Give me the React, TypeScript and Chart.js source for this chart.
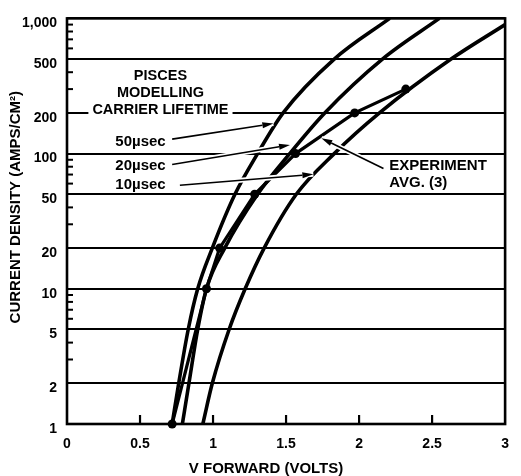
import React, { useEffect, useRef } from "react";
import { Chart, registerables } from "chart.js";

Chart.register(...registerables);

const FONT = "'Liberation Sans', Arial, Helvetica, sans-serif";

// ---- axis ticks ----
const xTickValues = [0, 0.5, 1, 1.5, 2, 2.5, 3];
const xTickLabels = ["0", "0.5", "1", "1.5", "2", "2.5", "3"];
const yTickValues = [1, 2, 5, 10, 20, 50, 100, 200, 500, 1000];
const yTickLabels = ["1", "2", "5", "10", "20", "50", "100", "200", "500", "1,000"];
const yMinorMultipliers = [3, 4, 6, 7, 8, 9];
const yMinorDecades = [1, 10, 100];

// ---- series (V forward in volts, current density in A/cm²) ----
const modelDensity = [1, 2, 5, 10, 20, 50, 100, 200, 500, 1000];
const v50us = [0.72, 0.765, 0.83, 0.895, 0.995, 1.15, 1.305, 1.48, 1.83, 2.21];
const v20us = [0.79, 0.835, 0.895, 0.955, 1.08, 1.305, 1.525, 1.765, 2.16, 2.55];
const density10us = [1, 2, 5, 10, 20, 50, 100, 200, 500, 900];
const v10us = [0.93, 0.995, 1.11, 1.22, 1.35, 1.57, 1.83, 2.14, 2.63, 3.0];
const expV = [0.72, 0.955, 1.045, 1.285, 1.565, 1.97, 2.32];
const expDensity = [1, 10, 20, 50, 100, 200, 300];

// ---- annotations (data coordinates) ----
const headingLines = ["PISCES", "MODELLING", "CARRIER LIFETIME"];
const headingV = 0.64;
const headingDensity = [378, 281, 209];
const lifetimeLabels = ["50\u00b5sec", "20\u00b5sec", "10\u00b5sec"];
const lifetimeLabelV = 0.331;
const lifetimeLabelDensity = [123, 80.7, 59.2];
const lifetimeArrowFrom = [[0.72, 128], [0.72, 83], [0.773, 58.4]];
const lifetimeArrowTo = [[1.413, 167], [1.527, 116], [1.687, 70.3]];
const expLabelLines = ["EXPERIMENT", "AVG. (3)"];
const expLabelV = 2.207;
const expLabelDensity = [80.7, 61];
const expArrowFrom = [2.167, 77.6];
const expArrowTo = [1.742, 130];

const yTitle = "CURRENT DENSITY (AMPS/CM\u00b2)";
const xTitle = "V FORWARD (VOLTS)";

function pts(xs: number[], ys: number[]) {
  return xs.map((x, i) => ({ x, y: ys[i] }));
}

export default function App() {
  const ref = useRef<HTMLCanvasElement | null>(null);

  useEffect(() => {
    const canvas = ref.current;
    if (!canvas) return;

    const px = (chart: any, v: number, d: number) => ({
      x: chart.scales.x.getPixelForValue(v),
      y: chart.scales.y.getPixelForValue(d),
    });

    const drawArrow = (ctx: CanvasRenderingContext2D, a: any, b: any) => {
      const ang = Math.atan2(b.y - a.y, b.x - a.x);
      const headLen = 11;
      const half = 3;
      const bx = b.x - headLen * Math.cos(ang);
      const by = b.y - headLen * Math.sin(ang);
      ctx.save();
      ctx.strokeStyle = "#fff";
      ctx.lineWidth = 5;
      ctx.lineCap = "butt";
      ctx.beginPath();
      ctx.moveTo(a.x, a.y);
      ctx.lineTo(b.x, b.y);
      ctx.stroke();
      ctx.strokeStyle = "#000";
      ctx.lineWidth = 1.6;
      ctx.beginPath();
      ctx.moveTo(a.x, a.y);
      ctx.lineTo(bx, by);
      ctx.stroke();
      ctx.fillStyle = "#000";
      ctx.beginPath();
      ctx.moveTo(b.x, b.y);
      ctx.lineTo(bx + half * Math.sin(ang), by - half * Math.cos(ang));
      ctx.lineTo(bx - half * Math.sin(ang), by + half * Math.cos(ang));
      ctx.closePath();
      ctx.fill();
      ctx.restore();
    };

    const bgPlugin = {
      id: "bg",
      beforeDraw(chart: any) {
        const ctx = chart.ctx;
        ctx.save();
        ctx.fillStyle = "#fff";
        ctx.fillRect(0, 0, chart.width, chart.height);
        ctx.restore();
      },
    };

    const framePlugin = {
      id: "frame",
      beforeDatasetsDraw(chart: any) {
        const ctx = chart.ctx;
        const { left, right, top, bottom } = chart.chartArea;
        ctx.save();
        ctx.strokeStyle = "#000";
        ctx.lineWidth = 2;
        yMinorDecades.forEach((dec) => {
          yMinorMultipliers.forEach((m) => {
            const y = chart.scales.y.getPixelForValue(dec * m);
            ctx.beginPath();
            ctx.moveTo(left, y);
            ctx.lineTo(left + 6, y);
            ctx.stroke();
          });
        });
        ctx.lineWidth = 2.2;
        xTickValues.forEach((v) => {
          const x = chart.scales.x.getPixelForValue(v);
          if (x <= left + 1 || x >= right - 1) return;
          ctx.beginPath();
          ctx.moveTo(x, bottom);
          ctx.lineTo(x, bottom - 9);
          ctx.stroke();
        });
        ctx.lineWidth = 2.6;
        ctx.strokeRect(left, top, right - left, bottom - top);
        ctx.restore();
      },
    };

    const annotPlugin = {
      id: "annot",
      afterDatasetsDraw(chart: any) {
        const ctx = chart.ctx;
        const { left, right, top, bottom } = chart.chartArea;
        ctx.save();
        ctx.fillStyle = "#000";
        ctx.textBaseline = "middle";
        ctx.font = `bold 14.5px ${FONT}`;
        ctx.textAlign = "center";
        headingLines.forEach((t, i) => {
          const p = px(chart, headingV, headingDensity[i]);
          const w = ctx.measureText(t).width;
          ctx.fillStyle = "#fff";
          ctx.fillRect(p.x - w / 2 - 4, p.y - 7, w + 8, 14);
          ctx.fillStyle = "#000";
          ctx.fillText(t, p.x, p.y);
        });
        ctx.font = `bold 15px ${FONT}`;
        ctx.textAlign = "left";
        lifetimeLabels.forEach((t, i) => {
          const p = px(chart, lifetimeLabelV, lifetimeLabelDensity[i]);
          ctx.fillText(t, p.x, p.y);
        });
        lifetimeArrowFrom.forEach((f, i) => {
          const a = px(chart, f[0], f[1]);
          const b = px(chart, lifetimeArrowTo[i][0], lifetimeArrowTo[i][1]);
          drawArrow(ctx, a, b);
        });
        expLabelLines.forEach((t, i) => {
          const p = px(chart, expLabelV, expLabelDensity[i]);
          ctx.fillText(t, p.x, p.y);
        });
        drawArrow(
          ctx,
          px(chart, expArrowFrom[0], expArrowFrom[1]),
          px(chart, expArrowTo[0], expArrowTo[1])
        );
        ctx.font = `bold 15px ${FONT}`;
        ctx.textAlign = "center";
        ctx.fillText(xTitle, (left + right) / 2 - 20, bottom + 45);
        ctx.save();
        ctx.translate(left - 51, (top + bottom) / 2 - 14);
        ctx.rotate(-Math.PI / 2);
        ctx.fillText(yTitle, 0, 0);
        ctx.restore();
        ctx.restore();
      },
    };

    const lineStyle = {
      borderColor: "#000",
      borderWidth: 3.6,
      pointRadius: 0,
      cubicInterpolationMode: "monotone" as const,
      fill: false,
    };

    const chart = new Chart(canvas, {
      type: "line",
      data: {
        datasets: [
          { label: "50µsec", data: pts(v50us, modelDensity), ...lineStyle },
          { label: "20µsec", data: pts(v20us, modelDensity), ...lineStyle },
          { label: "10µsec", data: pts(v10us, density10us), ...lineStyle },
          {
            label: "Experiment avg. (3)",
            data: pts(expV, expDensity),
            borderColor: "#000",
            borderWidth: 3.2,
            tension: 0,
            pointRadius: 4.5,
            pointBackgroundColor: "#000",
            pointBorderColor: "#000",
            pointBorderWidth: 0,
            clip: false as any,
            fill: false,
          },
        ],
      },
      options: {
        animation: false,
        responsive: true,
        maintainAspectRatio: false,
        layout: { padding: { top: 14, right: 4, bottom: 0, left: 0 } },
        plugins: {
          legend: { display: false },
          tooltip: { enabled: false },
        },
        scales: {
          x: {
            type: "linear",
            min: 0,
            max: 3,
            afterFit(scale: any) {
              scale.height = 52;
            },
            afterBuildTicks(scale: any) {
              scale.ticks = xTickValues.map((v) => ({ value: v }));
            },
            grid: { display: false, drawTicks: false },
            border: { display: false },
            ticks: {
              autoSkip: false,
              maxRotation: 0,
              padding: 12,
              color: "#000",
              font: { family: FONT, size: 14, weight: "bold" },
              callback: (_v: any, i: number) => xTickLabels[i],
            },
          },
          y: {
            type: "logarithmic",
            min: 1,
            max: 1000,
            afterFit(scale: any) {
              scale.width = 67;
            },
            afterBuildTicks(scale: any) {
              scale.ticks = yTickValues.map((v) => ({ value: v }));
            },
            grid: {
              display: true,
              drawTicks: false,
              color: "#000",
              lineWidth: 2,
            },
            border: { display: false },
            ticks: {
              autoSkip: false,
              padding: 10,
              labelOffset: 5,
              color: "#000",
              font: { family: FONT, size: 14, weight: "bold" },
              callback: (_v: any, i: number) => yTickLabels[i],
            },
          },
        },
      },
      plugins: [bgPlugin, framePlugin, annotPlugin],
    } as any);

    return () => chart.destroy();
  }, []);

  return (
    <div
      style={{
        position: "absolute",
        left: 0,
        top: 0,
        width: 521,
        height: 476,
        background: "#fff",
      }}
    >
      <canvas ref={ref} />
    </div>
  );
}
